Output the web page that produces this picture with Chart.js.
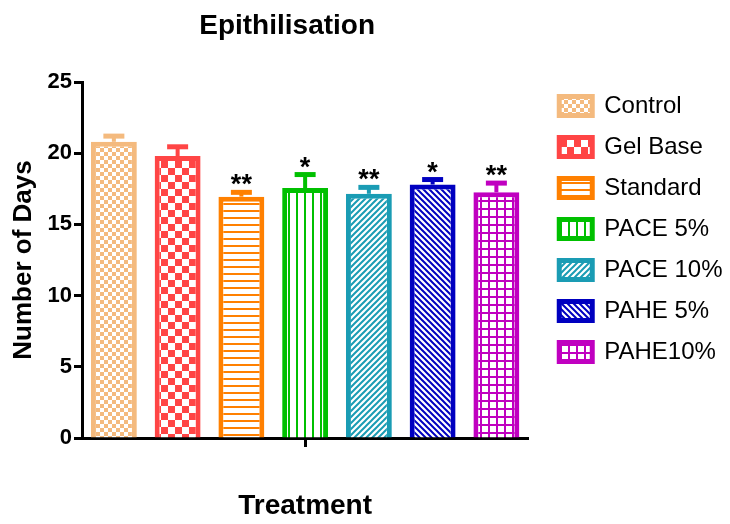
<!DOCTYPE html>
<html>
<head>
<meta charset="utf-8">
<script src="https://cdn.jsdelivr.net/npm/chart.js@4.4.0/dist/chart.umd.min.js"></script>
<style>
  html, body { margin: 0; padding: 0; background: #fff; }
  #wrap { width: 730px; height: 524px; }
</style>
</head>
<body>
<div id="wrap"><canvas id="chart" width="730" height="524"></canvas></div>
<script>
// values
const chartTitle = 'Epithilisation';
const groups = ['Treatment'];
const treatments = ['Control', 'Gel Base', 'Standard', 'PACE 5%', 'PACE 10%', 'PAHE 5%', 'PAHE10%'];
const days = [20.8, 19.8, 16.95, 17.55, 17.15, 17.8, 17.25];
const sem = [0.4, 0.65, 0.3, 0.95, 0.45, 0.35, 0.65];
const stars = ['', '', '**', '*', '**', '*', '**'];
const yTicks = [0, 5, 10, 15, 20, 25];

const colors = ['#F4BA7E', '#FF4545', '#FF8000', '#00C000', '#1A9CB4', '#0000C0', '#C000C0'];
const fills = ['fineCheck', 'check', 'hlines', 'vlines', 'diagUp', 'diagDown', 'grid'];

Chart.defaults.font.family = "'Liberation Sans', Arial, sans-serif";
Chart.defaults.color = '#000';

const canvas = document.getElementById('chart');

// small tiles used as hatch fills
function makePattern(kind, color) {
  const sizes = { fineCheck: 8, check: 14, hlines: 7, vlines: 8, diagUp: 6, diagDown: 6, grid: 8 };
  const s = sizes[kind];
  const c = document.createElement('canvas');
  c.width = c.height = s;
  const g = c.getContext('2d');
  g.fillStyle = '#fff';
  g.fillRect(0, 0, s, s);
  g.fillStyle = color;
  g.strokeStyle = color;
  g.lineWidth = 2;
  if (kind === 'fineCheck' || kind === 'check') {
    const h = s / 2;
    g.fillRect(0, 0, h, h);
    g.fillRect(h, h, h, h);
  } else if (kind === 'hlines') {
    g.fillRect(0, 0, s, 2);
  } else if (kind === 'vlines') {
    g.fillRect(0, 0, 2, s);
  } else if (kind === 'grid') {
    g.fillRect(0, 0, s, 2);
    g.fillRect(0, 0, 2, s);
  } else {
    g.beginPath();
    if (kind === 'diagUp') {
      g.moveTo(-1, s + 1); g.lineTo(s + 1, -1);
      g.moveTo(-1, 1); g.lineTo(1, -1);
      g.moveTo(s - 1, s + 1); g.lineTo(s + 1, s - 1);
    } else {
      g.moveTo(-1, -1); g.lineTo(s + 1, s + 1);
      g.moveTo(s - 1, -1); g.lineTo(s + 1, 1);
      g.moveTo(-1, s - 1); g.lineTo(1, s + 1);
    }
    g.stroke();
  }
  return canvas.getContext('2d').createPattern(c, 'repeat');
}

// error bars (upper half only) + significance stars
const errorBars = {
  id: 'errorBars',
  afterDatasetsDraw(chart) {
    const ctx = chart.ctx;
    const y = chart.scales.y;
    ctx.save();
    chart.data.datasets.forEach((ds, i) => {
      const bar = chart.getDatasetMeta(i).data[0];
      const top = y.getPixelForValue(days[i] + sem[i]);
      ctx.strokeStyle = colors[i];
      ctx.lineWidth = 4;
      ctx.beginPath();
      ctx.moveTo(bar.x, bar.y);
      ctx.lineTo(bar.x, top);
      ctx.stroke();
      ctx.lineWidth = 5;
      ctx.beginPath();
      ctx.moveTo(bar.x - 10.5, top);
      ctx.lineTo(bar.x + 10.5, top);
      ctx.stroke();
      if (stars[i]) {
        ctx.fillStyle = '#000';
        ctx.font = "bold 27px 'Liberation Sans', Arial, sans-serif";
        ctx.textAlign = 'center';
        ctx.textBaseline = 'alphabetic';
        ctx.fillText(stars[i], bar.x, top + 1);
      }
    });
    ctx.restore();
  }
};

// main title sits a little left of the plot centre
const mainTitle = {
  id: 'mainTitle',
  afterDraw(chart) {
    const ctx = chart.ctx;
    const a = chart.chartArea;
    ctx.save();
    ctx.fillStyle = '#000';
    ctx.font = "bold 28px 'Liberation Sans', Arial, sans-serif";
    ctx.textAlign = 'center';
    ctx.textBaseline = 'middle';
    ctx.fillText(chartTitle, (a.left + a.right) / 2 - 18, 26);
    ctx.restore();
  }
};

const datasets = treatments.map((name, i) => ({
  label: name,
  data: [days[i]],
  backgroundColor: makePattern(fills[i], colors[i]),
  borderColor: colors[i],
  borderWidth: 5,
  barPercentage: 0.72,
  categoryPercentage: 1.0
}));

new Chart(canvas, {
  type: 'bar',
  data: { labels: groups, datasets: datasets },
  options: {
    responsive: false,
    animation: false,
    layout: { padding: { top: 77, right: 7, bottom: 0, left: 0 } },
    plugins: {
      // empty title only used as a 5px spacer above the plot
      title: { display: true, text: '', padding: 0, font: { size: 5, lineHeight: 1 } },
      tooltip: { enabled: false },
      legend: {
        position: 'right',
        align: 'start',
        labels: {
          boxWidth: 33,
          boxHeight: 19,
          padding: 17,
          color: '#000',
          font: { size: 24 }
        }
      }
    },
    scales: {
      x: {
        z: 1,
        grid: {
          display: true,
          offset: false,
          drawOnChartArea: false,
          drawTicks: true,
          tickLength: 9,
          tickWidth: 3,
          tickColor: '#000'
        },
        border: { display: true, color: '#000', width: 3 },
        ticks: { display: false },
        title: {
          display: true,
          text: 'Treatment',
          color: '#000',
          font: { size: 28, weight: 'bold' },
          padding: { top: 0, bottom: 1 }
        },
        afterFit(s) { s.height = 86; }
      },
      y: {
        z: 1,
        min: yTicks[0],
        max: yTicks[yTicks.length - 1],
        afterBuildTicks(s) { s.ticks = yTicks.map(v => ({ value: v })); },
        ticks: { color: '#000', font: { size: 22, weight: 'bold' }, padding: 2 },
        grid: { drawOnChartArea: false, tickLength: 8, tickWidth: 3, tickColor: '#000' },
        border: { color: '#000', width: 3 },
        title: {
          display: true,
          text: 'Number of Days',
          color: '#000',
          font: { size: 26, weight: 'bold' },
          padding: { top: 8, bottom: 0 }
        },
        afterFit(s) { s.width = 82; }
      },
      // hidden axis that only keeps a gap between plot and legend
      gap: {
        type: 'linear',
        axis: 'y',
        position: 'right',
        display: false,
        afterFit(s) { s.width = 14; }
      }
    }
  },
  plugins: [errorBars, mainTitle]
});
</script>
</body>
</html>
